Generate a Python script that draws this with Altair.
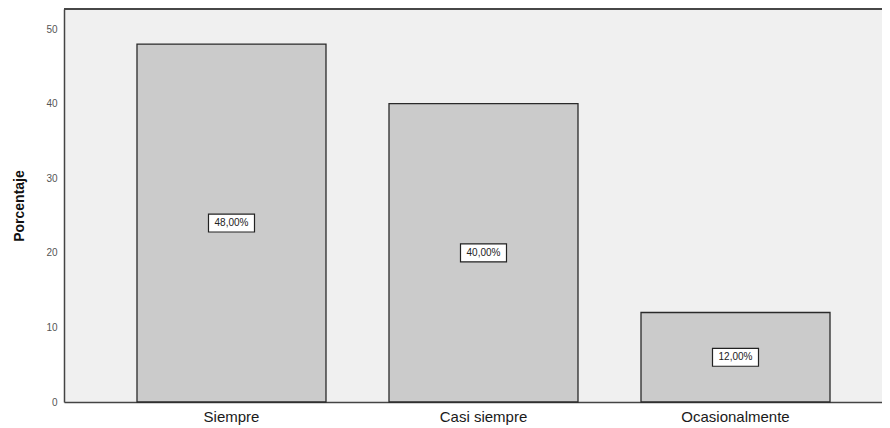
import altair as alt
import pandas as pd

categories = ["Siempre", "Casi siempre", "Ocasionalmente"]
values = [48.0, 40.0, 12.0]
labels = [f"{v:.2f}".replace(".", ",") + "%" for v in values]
y_ticks = [0, 10, 20, 30, 40, 50]

df = pd.DataFrame({"cat": categories, "val": values, "lab": labels,
                   "mid": [v / 2 for v in values]})

W, H = 818, 393
FONT = "Liberation Sans"

x = alt.X("cat:N", sort=categories, title=None,
          scale=alt.Scale(paddingInner=0.25, paddingOuter=0.248, align=0.584),
          axis=alt.Axis(labelAngle=0, labelFontSize=15, labelColor="#1a1a1a",
                        labelFont=FONT, labelPadding=7, ticks=False,
                        domain=True, domainColor="#444444", domainWidth=1.5))
yscale = alt.Scale(domain=[0, 52.7], nice=False)

bars = alt.Chart(df).mark_bar(color="#cbcbcb", stroke="#2a2a2a", strokeWidth=1.3).encode(
    x=x,
    y=alt.Y("val:Q", scale=yscale, title="Porcentaje",
            axis=alt.Axis(values=y_ticks, grid=False, ticks=False, labelFontSize=10,
                          labelColor="#555555", labelFont=FONT, labelPadding=7,
                          titleFont=FONT, titleFontSize=14, titleFontWeight="bold",
                          titleColor="#111111", titlePadding=19,
                          domain=True, domainColor="#444444", domainWidth=1.5)),
)

boxes = alt.Chart(df).mark_point(
    shape="M-1,-0.39H1V0.39H-1Z", size=2116, filled=True, fill="white",
    stroke="#222222", strokeWidth=1.2, opacity=1).encode(
    x=alt.X("cat:N", sort=categories),
    y=alt.Y("mid:Q", scale=yscale),
)

texts = alt.Chart(df).mark_text(fontSize=10, font=FONT, color="#222222").encode(
    x=alt.X("cat:N", sort=categories),
    y=alt.Y("mid:Q", scale=yscale),
    text="lab:N",
)

top = alt.Chart(df).mark_rule(color="#444444", strokeWidth=1.5).encode(
    x=alt.value(0), x2=alt.value(W), y=alt.value(0))

chart = alt.layer(bars, boxes, texts, top).properties(
    width=W, height=H,
    autosize=alt.AutoSizeParams(type="none"),
    padding={"left": 56, "top": 1, "right": 0, "bottom": 24},
    background="white",
).configure_view(fill="#f0f0f0", stroke=None)

chart.save("out.html", embed_options={"renderer": "svg", "actions": False})
